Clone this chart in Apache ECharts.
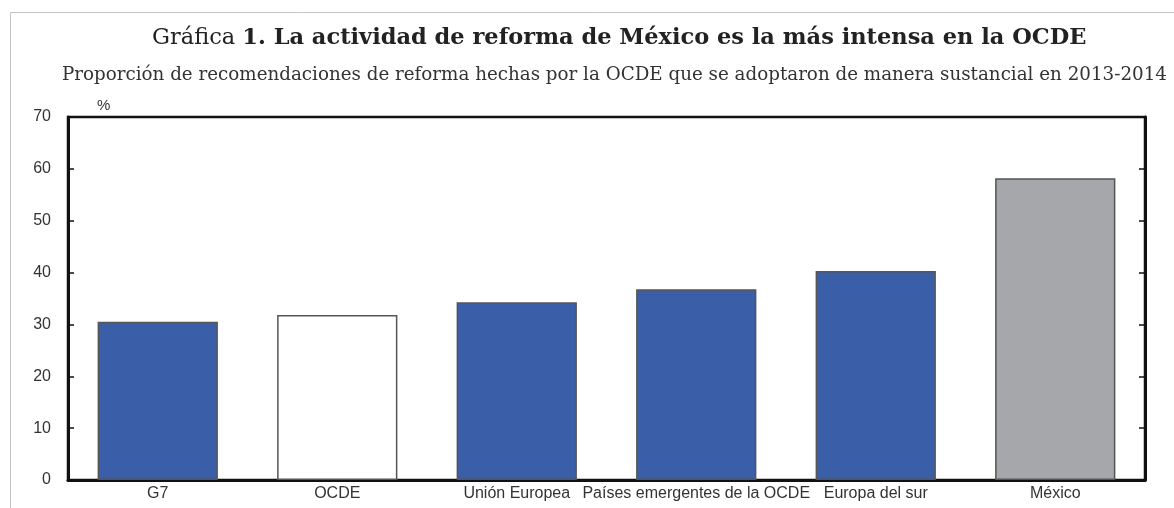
<!DOCTYPE html>
<html>
<head>
<meta charset="utf-8">
<script src="https://cdn.jsdelivr.net/npm/echarts@6/dist/echarts.min.js"></script>
<style>
  html, body { margin: 0; padding: 0; background: #fff; }
  #chart { width: 1174px; height: 508px; }
</style>
</head>
<body>
<div id="chart"></div>
<script>
// datos
const categories = ["G7", "OCDE", "Unión Europea", "Países emergentes de la OCDE", "Europa del sur", "México"];
const values = [30.5, 31.8, 34.3, 36.8, 40.3, 58.2];
const barColors = ["#3a5fa8", "#ffffff", "#3a5fa8", "#3a5fa8", "#3a5fa8", "#a5a7aa"];
const yTicks = [0, 10, 20, 30, 40, 50, 60, 70];

const chartDom = document.getElementById("chart");
const myChart = echarts.init(chartDom);

const labelFont = "'Liberation Sans Narrow', 'Liberation Sans', Arial, sans-serif";
const serif = "'DejaVu Serif', 'Liberation Serif', serif";

const option = {
  animation: false,
  backgroundColor: "#fff",
  title: [
    {
      text: "{a|Gráfica }{b|1. La actividad de reforma de México es la más intensa en la OCDE}",
      left: 147,
      top: 22,
      textStyle: {
        rich: {
          a: { fontFamily: serif, fontSize: 22.5, color: "#222", fontWeight: "normal" },
          b: { fontFamily: serif, fontSize: 22.5, color: "#222", fontWeight: "bold" }
        }
      }
    },
    {
      text: "Proporción de recomendaciones de reforma hechas por la OCDE que se adoptaron de manera sustancial en 2013-2014",
      left: 57,
      top: 61,
      textStyle: { fontFamily: serif, fontSize: 18.3, color: "#333", fontWeight: "normal" }
    },
    {
      text: "%",
      left: 92,
      top: 93,
      textStyle: { fontFamily: labelFont, fontSize: 15, color: "#333", fontWeight: "normal" }
    }
  ],
  graphic: [
    {
      type: "polyline",
      shape: { points: [[10.5, 508], [10.5, 12.5], [1174, 12.5]] },
      style: { stroke: "#c4c4c4", lineWidth: 1, fill: null },
      silent: true
    }
  ],
  grid: {
    left: 68,
    right: 29,
    top: 117,
    bottom: 28,
    show: true,
    borderColor: "#111",
    borderWidth: 2.5,
    backgroundColor: "#fff"
  },
  xAxis: {
    type: "category",
    data: categories,
    axisLine: { show: true, lineStyle: { color: "#111", width: 3 } },
    axisTick: { show: false },
    axisLabel: { interval: 0, fontFamily: labelFont, fontSize: 16, color: "#333", margin: 6 }
  },
  yAxis: [
    {
      type: "value",
      min: 0,
      max: 70,
      interval: 10,
      axisLine: { show: true, lineStyle: { color: "#111", width: 3 } },
      axisTick: { show: true, inside: true, length: 6, lineStyle: { color: "#111", width: 1.5 } },
      axisLabel: {
        fontFamily: labelFont,
        fontSize: 16,
        color: "#333",
        margin: 17,
        formatter: function (v) { return yTicks.indexOf(v) >= 0 ? String(v) : ""; }
      },
      splitLine: { show: false }
    },
    {
      type: "value",
      min: 0,
      max: 70,
      interval: 10,
      position: "right",
      axisLine: { show: true, lineStyle: { color: "#111", width: 3 } },
      axisTick: { show: true, inside: true, length: 6, lineStyle: { color: "#111", width: 1.5 } },
      axisLabel: { show: false },
      splitLine: { show: false }
    }
  ],
  series: [
    {
      type: "bar",
      barWidth: "67%",
      data: values.map(function (v, i) {
        return {
          value: v,
          itemStyle: { color: barColors[i], borderColor: "#555", borderWidth: 1.5 }
        };
      })
    }
  ]
};

option && myChart.setOption(option, true);
</script>
</body>
</html>
